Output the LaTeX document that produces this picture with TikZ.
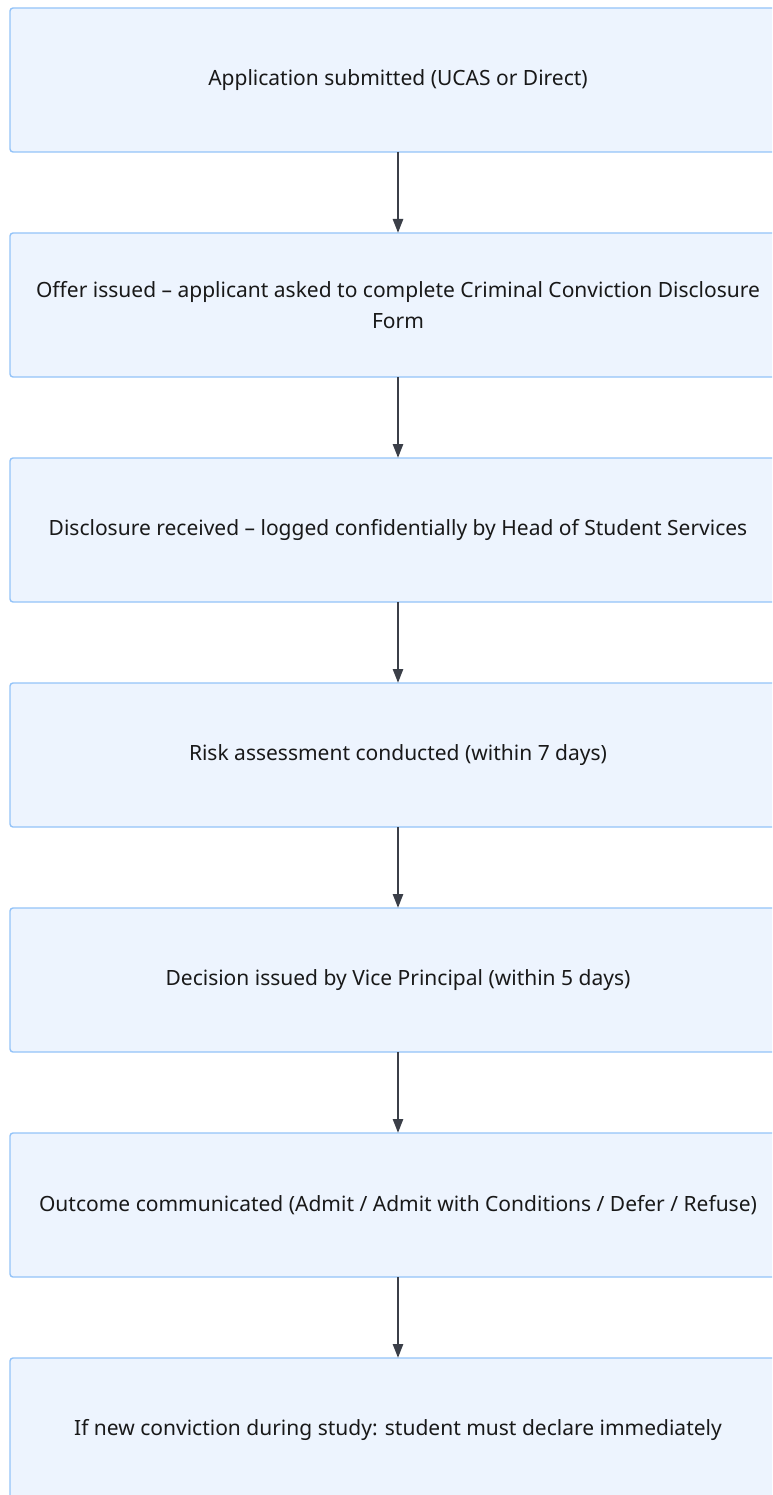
\documentclass[tikz,border=0pt]{standalone}
\usepackage{fontspec}
\setmainfont{Noto Sans}
\usetikzlibrary{arrows.meta,positioning}

\definecolor{boxfill}{HTML}{EDF4FE}
\definecolor{boxline}{HTML}{93C3F8}
\definecolor{arrowgray}{HTML}{3B3F48}

\begin{document}
\begin{tikzpicture}[x=1pt, y=1pt,
  stepbox/.style={rectangle, draw=boxline, line width=1.4pt, rounded corners=3pt,
                  fill=boxfill, minimum width=776pt, minimum height=144pt,
                  outer sep=0pt, align=center, font=\fontsize{21}{31}\selectfont,
                  text=black!90},
  arrow/.style={-{Triangle[length=14pt, width=10pt]}, line width=2.6pt, draw=arrowgray},
  node distance=81pt
]
  \path[use as bounding box, clip] (0,0) rectangle (772,-1495);

  \node[stepbox, anchor=north west] (apply) at (10,-8) {Application submitted (UCAS or Direct)};
  \node[stepbox, below=of apply] (offer) {Offer issued -- applicant asked to complete Criminal Conviction Disclosure\\Form};
  \node[stepbox, below=of offer] (disclose) {Disclosure received -- logged confidentially by Head of Student Services};
  \node[stepbox, below=of disclose] (risk) {Risk assessment conducted (within 7 days)};
  \node[stepbox, below=of risk] (decide) {Decision issued by Vice Principal (within 5 days)};
  \node[stepbox, below=of decide] (outcome) {Outcome communicated (Admit / Admit with Conditions / Defer / Refuse)};
  \node[stepbox, below=of outcome] (newconv) {If new conviction during study: student must declare immediately};

  \draw[arrow] (apply) -- (offer);
  \draw[arrow] (offer) -- (disclose);
  \draw[arrow] (disclose) -- (risk);
  \draw[arrow] (risk) -- (decide);
  \draw[arrow] (decide) -- (outcome);
  \draw[arrow] (outcome) -- (newconv);
\end{tikzpicture}
\end{document}
